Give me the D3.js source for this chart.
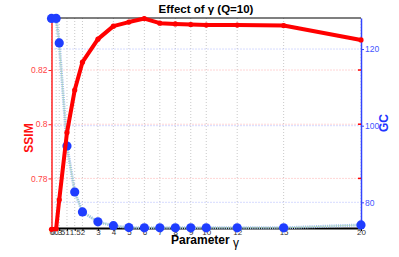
<!DOCTYPE html>
<html>
<head>
<meta charset="utf-8">
<script src="https://cdn.jsdelivr.net/npm/d3@7"></script>
<style>
  body { margin: 0; background: #fff; }
  text { font-family: "Liberation Sans", Arial, sans-serif; }
</style>
</head>
<body>
<div id="chart"></div>
<script>
// Data
const gammaValues = [0, 0.3, 0.5, 1, 1.5, 2, 3, 4, 5, 6, 7, 8, 9, 10, 12, 15, 20];
const ssimValues = [0.7612, 0.7614, 0.7721, 0.7969, 0.8126, 0.8229, 0.8314, 0.8362, 0.8377, 0.8390, 0.8373, 0.8370, 0.8368, 0.8366, 0.8366, 0.8364, 0.8311];
const gcValues = [128, 128, 121.6, 94.7, 82.7, 77.5, 74.9, 73.9, 73.4, 73.35, 73.35, 73.35, 73.35, 73.35, 73.35, 73.35, 74.1];
const xTickValues = [0, 0.3, 0.5, 1, 1.5, 2, 3, 4, 5, 6, 7, 8, 9, 10, 12, 15, 20];
const ssimTicks = [0.78, 0.80, 0.82];
const gcTicks = [80, 100, 120];

const width = 399, height = 257;
const plot = { left: 51.5, right: 361, top: 18, bottom: 228 };

const svg = d3.select("#chart")
    .append("svg")
    .attr("width", width)
    .attr("height", height);

const xScale = d3.scaleLinear().domain([0, 20]).range([plot.left, plot.right]);
const ySsim = d3.scaleLinear().domain([0.7617, 0.8392]).range([plot.bottom, plot.top]);
const yGc = d3.scaleLinear().domain([73.3, 128.1]).range([plot.bottom, plot.top]);

// Vertical grid lines
svg.append("g")
    .selectAll("line")
    .data(xTickValues)
    .join("line")
    .attr("x1", d => xScale(d)).attr("x2", d => xScale(d))
    .attr("y1", plot.top).attr("y2", plot.bottom)
    .attr("stroke", "#bbbbbb")
    .attr("stroke-width", 0.8)
    .attr("stroke-dasharray", "1,2");

// Horizontal grids: red for SSIM, blue for GC
svg.append("g")
    .selectAll("line")
    .data(ssimTicks)
    .join("line")
    .attr("x1", plot.left).attr("x2", plot.right)
    .attr("y1", d => ySsim(d)).attr("y2", d => ySsim(d))
    .attr("stroke", "#ff9999")
    .attr("stroke-width", 0.8)
    .attr("stroke-dasharray", "1,2");

svg.append("g")
    .selectAll("line")
    .data(gcTicks)
    .join("line")
    .attr("x1", plot.left).attr("x2", plot.right)
    .attr("y1", d => yGc(d)).attr("y2", d => yGc(d))
    .attr("stroke", "#99a6ff")
    .attr("stroke-width", 0.8)
    .attr("stroke-dasharray", "1,2");

// Top frame line
svg.append("line")
    .attr("x1", plot.left).attr("x2", plot.right)
    .attr("y1", plot.top).attr("y2", plot.top)
    .attr("stroke", "#000").attr("stroke-width", 1.2);

// X axis
const bottomAxis = d3.axisBottom(xScale)
    .tickValues(xTickValues)
    .tickFormat(d3.format("~g"))
    .tickSize(3)
    .tickSizeOuter(0);
const xAxisG = svg.append("g")
    .attr("transform", `translate(0,${plot.bottom})`)
    .call(bottomAxis);
xAxisG.select(".domain").attr("stroke", "#000").attr("stroke-width", 1.8);
xAxisG.selectAll(".tick line").attr("stroke", "#000");
xAxisG.selectAll(".tick text")
    .attr("font-size", 8)
    .attr("fill", "#333")
    .attr("dy", "0.55em")
    .attr("y", 3);

// Left axis (SSIM)
const leftAxis = d3.axisLeft(ySsim)
    .tickValues(ssimTicks)
    .tickFormat(d3.format("~g"))
    .tickSize(3)
    .tickSizeOuter(0);
const leftG = svg.append("g")
    .attr("transform", `translate(${plot.left},0)`)
    .call(leftAxis);
leftG.select(".domain").attr("stroke", "#ff2222").attr("stroke-width", 1.5);
leftG.selectAll(".tick line").attr("stroke", "#ff2222");
leftG.selectAll(".tick text").attr("font-size", 8.5).attr("fill", "#ff4444").attr("x", -4);

// Right axis (GC)
const rightAxis = d3.axisRight(yGc)
    .tickValues(gcTicks)
    .tickSize(3)
    .tickSizeOuter(0);
const rightG = svg.append("g")
    .attr("transform", `translate(${plot.right},0)`)
    .call(rightAxis);
rightG.select(".domain").attr("stroke", "#3344ff").attr("stroke-width", 1.5);
rightG.selectAll(".tick line").attr("stroke", "#3344ff");
rightG.selectAll(".tick text").attr("font-size", 8.5).attr("fill", "#4455ff").attr("x", 4);

// Red inner ticks at SSIM levels on the right edge
svg.append("g")
    .selectAll("line")
    .data(ssimTicks)
    .join("line")
    .attr("x1", plot.right - 3).attr("x2", plot.right)
    .attr("y1", d => ySsim(d)).attr("y2", d => ySsim(d))
    .attr("stroke", "#ff0000").attr("stroke-width", 1.5);

// GC line (light blue dotted with a thin green core)
const gcData = gammaValues.map((g, i) => ({ g, v: gcValues[i] }));
const gcLine = d3.line().x(d => xScale(d.g)).y(d => yGc(d.v));
svg.append("path")
    .datum(gcData)
    .attr("d", gcLine)
    .attr("fill", "none")
    .attr("stroke", "#a4c2ee")
    .attr("stroke-width", 3)
    .attr("stroke-dasharray", "1.2,1");
svg.append("path")
    .datum(gcData)
    .attr("d", gcLine)
    .attr("fill", "none")
    .attr("stroke", "#9fd39f")
    .attr("stroke-width", 0.5);

svg.append("g")
    .selectAll("circle")
    .data(gcData)
    .join("circle")
    .attr("cx", d => xScale(d.g))
    .attr("cy", d => yGc(d.v))
    .attr("r", 4.6)
    .attr("fill", "#1f3dff");

// SSIM line
const ssimData = gammaValues.map((g, i) => ({ g, v: ssimValues[i] }));
svg.append("path")
    .datum(ssimData)
    .attr("d", d3.line().x(d => xScale(d.g)).y(d => ySsim(d.v)))
    .attr("fill", "none")
    .attr("stroke", "#ff0000")
    .attr("stroke-width", 4)
    .attr("stroke-linejoin", "round");
svg.append("g")
    .selectAll("circle")
    .data(ssimData)
    .join("circle")
    .attr("cx", d => xScale(d.g))
    .attr("cy", d => ySsim(d.v))
    .attr("r", 2.6)
    .attr("fill", "#ff0000");

// Titles and axis labels
svg.append("text")
    .attr("x", 206).attr("y", 13)
    .attr("text-anchor", "middle")
    .attr("font-size", 11.5)
    .attr("font-weight", "bold")
    .text("Effect of γ (Q=10)");

const xLabel = svg.append("text")
    .attr("x", 205).attr("y", 244)
    .attr("text-anchor", "middle")
    .attr("font-size", 12)
    .attr("font-weight", "bold");
xLabel.append("tspan").text("Parameter ");
xLabel.append("tspan").attr("dy", 3).attr("font-weight", "normal").text("γ");

svg.append("text")
    .attr("transform", "translate(33,138) rotate(-90)")
    .attr("text-anchor", "middle")
    .attr("font-size", 12)
    .attr("font-weight", "bold")
    .attr("fill", "#ff1111")
    .text("SSIM");

svg.append("text")
    .attr("transform", "translate(388,123) rotate(-90)")
    .attr("text-anchor", "middle")
    .attr("font-size", 12)
    .attr("font-weight", "bold")
    .attr("fill", "#2233ff")
    .text("GC");
</script>
</body>
</html>
